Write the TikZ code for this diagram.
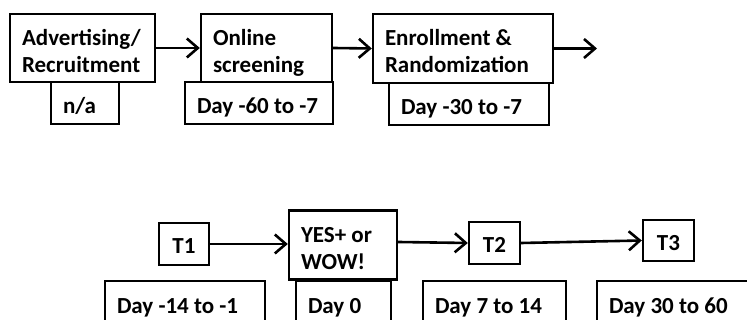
\documentclass[tikz,border=0pt]{standalone}
\usepackage{fontspec}
\setmainfont{Carlito}
\usetikzlibrary{arrows.meta}
\tikzset{
  box/.style={draw, line width=2.4pt, inner xsep=12pt, inner ysep=0pt, align=flush left,
    text height=21pt, text depth=0pt, font=\bfseries\fontsize{23}{27}\selectfont, anchor=center},
  twoline/.style={text height=17pt, text depth=22pt},
  tbox/.style={draw, line width=2.4pt, inner sep=0pt, align=center, text height=20pt, text depth=0pt,
    font=\bfseries\fontsize{23}{27}\selectfont, anchor=center},
  flow/.style={line width=2.6pt, -{Straight Barb[length=11pt,width=19pt,line width=2.6pt]}}
}
\newcommand{\bx}[7][]{\node[box, #1, text width=#5pt-24pt, minimum height=#6pt] (#2) at (#3,#4) {#7};}
\begin{document}
\begin{tikzpicture}[x=1pt,y=1pt]
\useasboundingbox (0,0) rectangle (747,320);
\clip (0,0) rectangle (747,320);
% top row
\bx[twoline]{adv}{82.5}{272}{145}{68}{Advertising/\\Recruitment}
\bx{na}{85}{217}{68}{42}{n/a}
\bx[twoline]{onl}{266.5}{272}{131}{68}{Online\\screening}
\bx{d60}{259}{217}{148}{42}{Day -60 to -7}
\bx[twoline]{enr}{463}{271.5}{180}{69}{Enrollment \&\\Randomization}
\bx{d30}{469}{216}{160}{42}{Day -30 to -7}
\coordinate (out) at (597,271.5);
\draw[flow] (adv.east) -- (onl.west);
\draw[flow] (onl.east) -- (enr.west);
\draw[flow] (enr.east) -- (out);
% bottom row
\node[tbox, minimum width=50pt, minimum height=42pt] (t1) at (184,76) {T1};
\bx[twoline]{yes}{343}{75}{108}{69}{YES+ or\\WOW!}
\node[tbox, minimum width=51pt, minimum height=42pt] (t2) at (494.5,77) {T2};
\node[tbox, minimum width=51pt, minimum height=41pt] (t3) at (668.5,79.5) {T3};
\bx{d14}{185}{16.5}{160}{45}{Day -14 to -1}
\bx{d0}{343.5}{16.5}{95}{45}{Day 0}
\bx{d7}{494.5}{16.5}{143}{45}{Day 7 to 14}
\bx{d3060}{677}{16.5}{160}{45}{Day 30 to 60}
\draw[flow] (t1.east) -- (yes.west |- t1.east);
\draw[flow] ([yshift=3pt]yes.east) -- (t2.west);
\draw[flow] (t2.east) -- (t3.west);
\end{tikzpicture}
\end{document}
